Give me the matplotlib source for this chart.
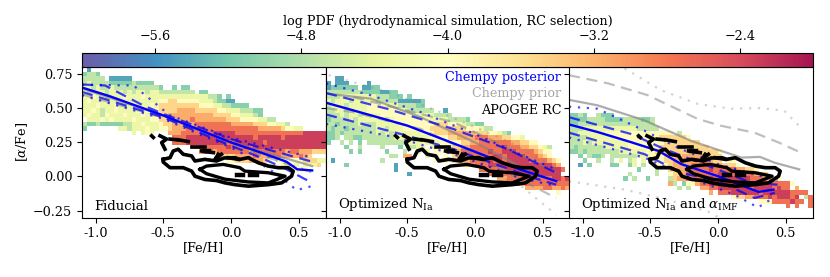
#!/usr/bin/env python3
import numpy as np
from matplotlib import pyplot as plt
from matplotlib.cm import ScalarMappable
from matplotlib.colors import Normalize

plt.rcParams["font.family"] = ["DejaVu Serif"]
plt.rcParams["mathtext.fontset"] = "dejavuserif"
plt.rcParams["font.size"] = 9.2

FE_TICKS = [-1.0, -0.5, 0.0, 0.5]
FE_LABELS = ["-1.0", "-0.5", "0.0", "0.5"]
ALPHA_TICKS = [-0.25, 0.0, 0.25, 0.5, 0.75]
ALPHA_LABELS = ["\u22120.25", "0.00", "0.25", "0.50", "0.75"]
CBAR_TICKS = [-5.6, -4.8, -4.0, -3.2, -2.4]
PANEL_NAMES = ["Fiducial", r"Optimized N$_{\mathrm{Ia}}$",
               r"Optimized N$_{\mathrm{Ia}}$ and $\alpha_{\mathrm{IMF}}$"]

# log PDF read for each digit used in the grids below
LEVELS = [-5.8, -5.45, -5.05, -4.7, -4.3, -3.95, -3.5, -3.15, -2.75, -2.3]

# binned log PDF, one string per row from the top
HIST_FIDUCIAL = [
    ".1",
    "2332",
    "33333.11111",
    "3433332222232222",
    "443433433333333332..2.22",
    "4344434443434434433333333.22",
    "4454434445444544444444444444332.2",
    "4544454454444444455665555544432211",
    "4445444544454445466666666655544332222",
    "4454344544445454566667777666665544433322",
    "4544354445444544666777777777766665544432",
    ".444545444454445566777778777777766655554433",
    "3223222223344544456677777888888887777766655443",
    "2.......44344454455677788888888888888887777765544",
    "...........4.454...77788888889999988888888888888899999",
    "....................8889999999899999998999998999999999",
    "....................8889999999998899999989999999999999",
    "........................778888889888989999999999999999",
    "..........................7887888888878888888788777666",
    "..............................666677778778887777876",
    "................................5566677765.54.55566644",
    "..........................................5.54.4.4446",
    "...............................................555",
]
HIST_NIA = [
    "",
    "",
    "..11",
    "1.111....1",
    "1222222.1122",
    "3333333322221122",
    "33344444444333222.2",
    "4344434444433333111112",
    "3444344445555444333322",
    "334434444555555544333333..1",
    "3334344344445555555444443333",
    "23333434444443455555555444433332",
    "33233334333444445555555566655443322",
    "3233233333344344455555566666666555433",
    "22323333333434344444455566677777766655432",
    "223.3322333333344444444555566777788877766554",
    "2..3.3.2.33333333344444445555566778888888776655",
    "....2..3....3...2.3344.4.5556677888888898887766543",
    ".....2.2.....2...3..4.4.55.67788888898899988887655",
    "..............33.77...4.5.5.6778888889989999888765",
    ".1..........3...........5.5.667788889898999998888765",
    "....2..........1.............56778889999999999999987",
    "...............1..................8888889999999999998",
    "..................1.................8888889999999999",
    "......................................77888888888899899",
    ".........................................7878888888888887",
    "............................................777788778777",
    "...................................................5",
]
HIST_NIA_IMF = [
    "", "", "", "", "", "", "", "", "", "",
    "2232..3222",
    "2222333322223333223",
    "2233333333333333333",
    "33344444444444433333",
    "33444444555555555555555.3",
    "333344444455555555556666665",
    "33343444444445555555566666666",
    "3233333344444555555566666666666",
    "2232333333344444455666666666666665",
    "..2.3223.3333334445556666777777666",
    "...2..3..3.4.34.4.5556677777788766.55",
    "..1.2....22..24.3..5556777788888776665..3",
    "...............2...3..66777888898888877665",
    ".............3.....3..5667878888898889888766",
    "............2.3..2....3677888899899999998887665",
    "......................73.2557889999999999999988885",
    "........................3.3..77889999999899998988.7",
    "...............................7.88899999989999998888",
    "....................................566778889899989.38",
    "..........................................5558888988.8.8",
    "................................................8.8..8.88",
]

# Chempy posterior tracks (blue) and prior tracks (grey) per panel
POST_MID_1 = [(-1.1, 0.65), (-0.894, 0.586), (-0.5, 0.446), (0.0, 0.249), (0.22, 0.175), (0.41, 0.108), (0.49, 0.052), (0.6, 0.044)]
POST_UP1_1 = [(-1.1, 0.672), (-0.93, 0.665), (-0.65, 0.52), (-0.5, 0.458), (0.0, 0.273), (0.26, 0.2), (0.6, 0.108)]
POST_UP2_1 = [(-1.1, 0.67), (-0.72, 0.665), (-0.45, 0.446), (0.0, 0.283), (0.6, 0.138)]
POST_LO1_1 = [(-1.1, 0.618), (-0.5, 0.433), (0.0, 0.224), (0.22, 0.138), (0.41, 0.052), (0.6, -0.047)]
POST_LO2_1 = [(-1.1, 0.594), (-0.5, 0.421), (0.0, 0.212), (0.19, 0.113), (0.36, 0.002), (0.485, -0.1), (0.6, -0.07)]
PRIOR_MID_1 = [(-1.1, 0.643), (-0.5, 0.446), (0.0, 0.249), (0.6, 0.076)]
PRIOR_LO_1 = [(-1.1, 0.6), (-0.5, 0.43), (0.0, 0.23), (0.3, 0.13), (0.6, 0.03)]

POST_MID_2 = [(-1.1, 0.539), (-0.5, 0.372), (-0.08, 0.212), (0.33, 0.052), (0.6, -0.034)]
POST_UP1_2 = [(-1.1, 0.61), (-0.65, 0.495), (-0.16, 0.347), (0.24, 0.2), (0.6, 0.027)]
POST_UP2_2 = [(-1.1, 0.68), (-0.77, 0.594), (-0.4, 0.47), (0.0, 0.31), (0.33, 0.163), (0.6, 0.052)]
POST_LO1_2 = [(-1.1, 0.453), (-0.5, 0.298), (-0.16, 0.2), (0.43, -0.01), (0.6, -0.06)]
POST_LO2_2 = [(-1.1, 0.384), (-0.58, 0.286), (-0.08, 0.138), (0.33, -0.01), (0.6, -0.07)]
PRIOR_MID_2 = [(-1.1, 0.606), (-0.77, 0.569), (-0.4, 0.433), (0.0, 0.249), (0.33, 0.076), (0.48, -0.01)]
PRIOR_UP1_2 = [(-0.9, 0.58), (-0.16, 0.397), (0.24, 0.212), (0.6, 0.03)]
PRIOR_LO1_2 = [(-1.1, 0.5), (-0.9, 0.47), (-0.4, 0.347), (0.0, 0.163), (0.33, -0.02), (0.6, -0.158)]
PRIOR_UP2_2 = [(-1.08, 0.74), (-0.635, 0.615), (-0.28, 0.48), (0.0, 0.36), (0.26, 0.249), (0.6, 0.06)]
PRIOR_LO2_2 = [(-0.08, 0.1), (0.33, -0.06), (0.6, -0.28)]

POST_MID_3 = [(-1.1, 0.38), (-0.89, 0.325), (-0.64, 0.25), (-0.44, 0.187), (-0.27, 0.09), (0.0, 0.002), (0.3, -0.113), (0.41, -0.096)]
POST_UP1_3 = [(-1.1, 0.433), (-0.64, 0.31), (-0.395, 0.2), (0.0, 0.05), (0.247, -0.047), (0.44, -0.06)]
POST_UP2_3 = [(-1.1, 0.51), (-0.89, 0.495), (-0.543, 0.335), (-0.296, 0.21), (0.0, 0.09), (0.44, -0.03)]
POST_LO1_3 = [(-1.1, 0.32), (-0.543, 0.163), (-0.27, 0.027), (0.0, -0.034), (0.27, -0.157), (0.42, -0.12)]
POST_LO2_3 = [(-1.1, 0.285), (-0.543, 0.138), (-0.148, -0.034), (0.123, -0.133), (0.296, -0.227), (0.407, -0.158)]
PRIOR_MID_3 = [(-1.1, 0.56), (-0.89, 0.52), (-0.543, 0.41), (-0.198, 0.26), (0.173, 0.138), (0.31, 0.143), (0.42, 0.1), (0.6, 0.052)]
PRIOR_UP1_3 = [(-1.1, 0.74), (-0.81, 0.68), (-0.518, 0.594), (-0.148, 0.42), (0.025, 0.37), (0.27, 0.32), (0.444, 0.25), (0.6, 0.18)]
PRIOR_UP2_3 = [(-0.69, 0.79), (-0.42, 0.63), (-0.148, 0.53), (0.1, 0.495), (0.32, 0.5), (0.49, 0.48), (0.6, 0.37)]
PRIOR_LO2_3 = [(-1.1, -0.035), (-0.69, -0.096), (-0.42, -0.158), (-0.074, -0.256), (0.025, -0.31)]

# APOGEE RC contour pieces, same in every panel
RC_OUTER = [(-0.50, 0.125), (-0.45, 0.137), (-0.426, 0.186), (-0.389, 0.199), (-0.352, 0.162), (-0.29, 0.15),
            (-0.266, 0.113), (-0.193, 0.125), (-0.106, 0.113), (-0.05, 0.135), (0.03, 0.137), (0.065, 0.125),
            (0.128, 0.137), (0.202, 0.1), (0.276, 0.076), (0.35, 0.064), (0.423, 0.064), (0.46, 0.039),
            (0.448, 0.002), (0.374, -0.047), (0.276, -0.06), (0.128, -0.071), (0.03, -0.06), (-0.044, -0.047),
            (-0.106, -0.03), (-0.193, -0.022), (-0.266, 0.002), (-0.29, 0.039), (-0.352, 0.064), (-0.45, 0.064),
            (-0.50, 0.105), (-0.50, 0.125)]
RC_INNER = [(-0.229, 0.052), (-0.18, 0.076), (-0.057, 0.088), (0.066, 0.064), (0.103, 0.039), (0.276, 0.027),
            (0.40, 0.002), (0.276, -0.047), (0.128, -0.04), (-0.044, -0.02), (-0.18, 0.02), (-0.229, 0.052)]
RC_PIECES = [
    [(-0.586, 0.297), (-0.573, 0.285)],
    [(-0.524, 0.297), (-0.475, 0.273), (-0.512, 0.248), (-0.487, 0.199)],
    [(-0.45, 0.273), (-0.40, 0.268)],
    [(-0.389, 0.268), (-0.315, 0.255)],
    [(-0.29, 0.218), (-0.193, 0.218)],
    [(-0.217, 0.186), (-0.13, 0.174)],
    [(-0.094, 0.162), (-0.118, 0.125), (-0.07, 0.162)],
    [(-0.02, 0.137), (0.054, 0.125)],
]
RC_BLOBS = [
    [(-0.20, 0.187), (-0.16, 0.187)],
    [(0.042, 0.007), (0.091, 0.007)],
    [(0.14, 0.007), (0.19, 0.007)],
]

HISTS = [HIST_FIDUCIAL, HIST_NIA, HIST_NIA_IMF]
POSTERIOR = [
    [POST_MID_1, POST_UP1_1, POST_LO1_1, POST_UP2_1, POST_LO2_1],
    [POST_MID_2, POST_UP1_2, POST_LO1_2, POST_UP2_2, POST_LO2_2],
    [POST_MID_3, POST_UP1_3, POST_LO1_3, POST_UP2_3, POST_LO2_3],
]
PRIOR_SOLID = [PRIOR_MID_1, PRIOR_MID_2, PRIOR_MID_3]
PRIOR_DASHED = [[PRIOR_LO_1], [PRIOR_UP1_2, PRIOR_LO1_2], [PRIOR_UP1_3]]
PRIOR_DOTTED = [[PRIOR_LO_1], [PRIOR_UP2_2, PRIOR_LO2_2], [PRIOR_UP2_3, PRIOR_LO2_3]]

VMIN, VMAX = -6.0, -2.0
N_COLS, N_ROWS = 54, 33


def grid_from_rows(rows):
    grid = np.full((N_ROWS, N_COLS), np.nan)
    for r, row in enumerate(rows):
        for c, ch in enumerate(row[:N_COLS]):
            if ch != ".":
                grid[r, c] = LEVELS[int(ch)]
    return np.ma.masked_invalid(grid)


def draw_line(ax, pts, **kwargs):
    xs, ys = zip(*pts)
    ax.plot(xs, ys, **kwargs)


def main():
    W, H = 830.0, 277.0
    fig = plt.figure(figsize=(8.3, 2.77), dpi=100)
    norm = Normalize(VMIN, VMAX)
    x_edges = np.linspace(-1.1, 0.7, N_COLS + 1)
    y_edges = np.linspace(0.8, -0.3, N_ROWS + 1)
    lefts = [82, 326, 569]

    for i, left in enumerate(lefts):
        ax = fig.add_axes([left / W, 1 - 217.5 / H, 243.7 / W, 150.5 / H])
        ax.pcolormesh(x_edges, y_edges, grid_from_rows(HISTS[i]), cmap="Spectral_r", norm=norm,
                      alpha=0.92, linewidth=0, rasterized=True)

        draw_line(ax, PRIOR_SOLID[i], color="gray", alpha=0.65, lw=1.6)
        for pts in PRIOR_DASHED[i]:
            draw_line(ax, pts, color="gray", alpha=0.5, lw=1.6, ls=(0, (5, 3)))
        for pts in PRIOR_DOTTED[i]:
            draw_line(ax, pts, color="gray", alpha=0.35, lw=1.6, ls=(0, (1, 3)))

        post = POSTERIOR[i]
        draw_line(ax, post[0], color="blue", lw=1.7)
        draw_line(ax, post[1], color="blue", alpha=0.75, lw=1.6, ls=(0, (5, 3)))
        draw_line(ax, post[2], color="blue", alpha=0.75, lw=1.6, ls=(0, (5, 3)))
        draw_line(ax, post[3], color="blue", alpha=0.7, lw=1.6, ls=(0, (1, 3)))
        draw_line(ax, post[4], color="blue", alpha=0.7, lw=1.6, ls=(0, (1, 3)))

        draw_line(ax, RC_OUTER, color="black", lw=2.6)
        draw_line(ax, RC_INNER, color="black", lw=2.4)
        for pts in RC_PIECES:
            draw_line(ax, pts, color="black", lw=2.6)
        for pts in RC_BLOBS:
            draw_line(ax, pts, color="black", lw=3.2)

        ax.set_xlim(-1.1, 0.7)
        ax.set_ylim(-0.3, 0.8)
        ax.set_xticks(FE_TICKS)
        ax.set_xticklabels(FE_LABELS)
        ax.set_yticks(ALPHA_TICKS)
        if i == 0:
            ax.set_yticklabels(ALPHA_LABELS)
            ax.set_ylabel(r"[$\alpha$/Fe]", labelpad=2)
        else:
            ax.set_yticklabels([])
        ax.set_xlabel("[Fe/H]", labelpad=1)
        ax.text(0.05, 0.03, PANEL_NAMES[i], transform=ax.transAxes, ha="left", va="bottom", fontsize=9.5)
        if i == 1:
            ax.text(0.965, 0.975, "Chempy posterior", color="blue", transform=ax.transAxes, ha="right", va="top")
            ax.text(0.965, 0.87, "Chempy prior", color="gray", alpha=0.7, transform=ax.transAxes, ha="right", va="top")
            ax.text(0.965, 0.755, "APOGEE RC", color="black", transform=ax.transAxes, ha="right", va="top")

    cax = fig.add_axes([82 / W, 1 - 67 / H, 731 / W, 14 / H])
    sm = ScalarMappable(norm=norm, cmap="Spectral_r")
    cb = fig.colorbar(sm, cax=cax, orientation="horizontal", alpha=0.92)
    cb.set_ticks(CBAR_TICKS)
    cax.xaxis.set_ticks_position("top")
    cax.xaxis.set_label_position("top")
    cb.set_label("log PDF (hydrodynamical simulation, RC selection)")

    fig.savefig("out.png", dpi=100)
    plt.close(fig)


if __name__ == "__main__":
    main()
